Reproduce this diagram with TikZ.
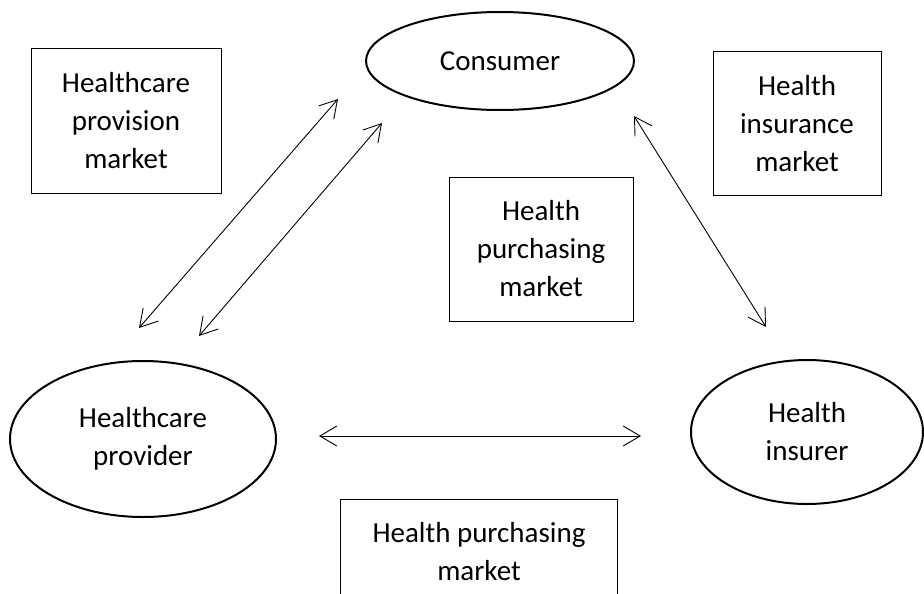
\documentclass[tikz,border=0pt]{standalone}
\usepackage{fontspec}
\setmainfont{Carlito}
\usetikzlibrary{arrows.meta,shapes.geometric}
\begin{document}
\begin{tikzpicture}[x=1pt,y=-1pt,
  txt/.style={font=\fontsize{29}{38}\selectfont, align=center, inner sep=0pt},
  box/.style={txt, draw, line width=1pt},
  ell/.style={txt, draw, ellipse, line width=2pt},
  frame/.style={line width=1pt},
  link/.style={line width=0.9pt, {Straight Barb[length=17pt,width=20pt]}-{Straight Barb[length=17pt,width=20pt]}}]
\useasboundingbox (0,0) rectangle (924,594);

% markets (boxes)
\node[box, minimum width=190pt, minimum height=144pt] (hpm) at (126,121) {Healthcare\\provision\\market};
\node[box, minimum width=168pt, minimum height=143pt] (him) at (797,123.5) {Health\\insurance\\market};
\node[box, minimum width=184pt, minimum height=144pt] (hpu) at (541,249) {Health\\purchasing\\market};

% actors (ellipses)
\node[ell, minimum width=268pt, minimum height=98pt] (con) at (500,61) {Consumer};
\node[ell, minimum width=266pt, minimum height=156pt] (prov) at (143,439) {Healthcare\\provider};
\node[ell, minimum width=232pt, minimum height=144pt] (ins) at (807,432) {Health\\insurer};

% bottom box, cut off by the page edge
\node[txt, minimum width=276pt, minimum height=103pt] (bot) at (479,551.5) {Health purchasing\\market};
\coordinate (pagebottom) at (0,594);
\draw[frame] (bot.north west |- pagebottom) -- (bot.north west) -- (bot.north east) -- (bot.north east |- pagebottom);

% connector end points
\coordinate (a1c) at (338,99);
\coordinate (a1p) at (139,328);
\coordinate (a2c) at (382,123);
\coordinate (a2p) at (199,336);
\coordinate (a3c) at (634,116);
\coordinate (a3i) at (766,327);
\coordinate (a4p) at (319,436);
\coordinate (a4i) at (641,436);

\draw[link] (a1c) -- (a1p);
\draw[link] (a2c) -- (a2p);
\draw[link] (a3c) -- (a3i);
\draw[link] (a4p) -- (a4i);
\end{tikzpicture}
\end{document}
